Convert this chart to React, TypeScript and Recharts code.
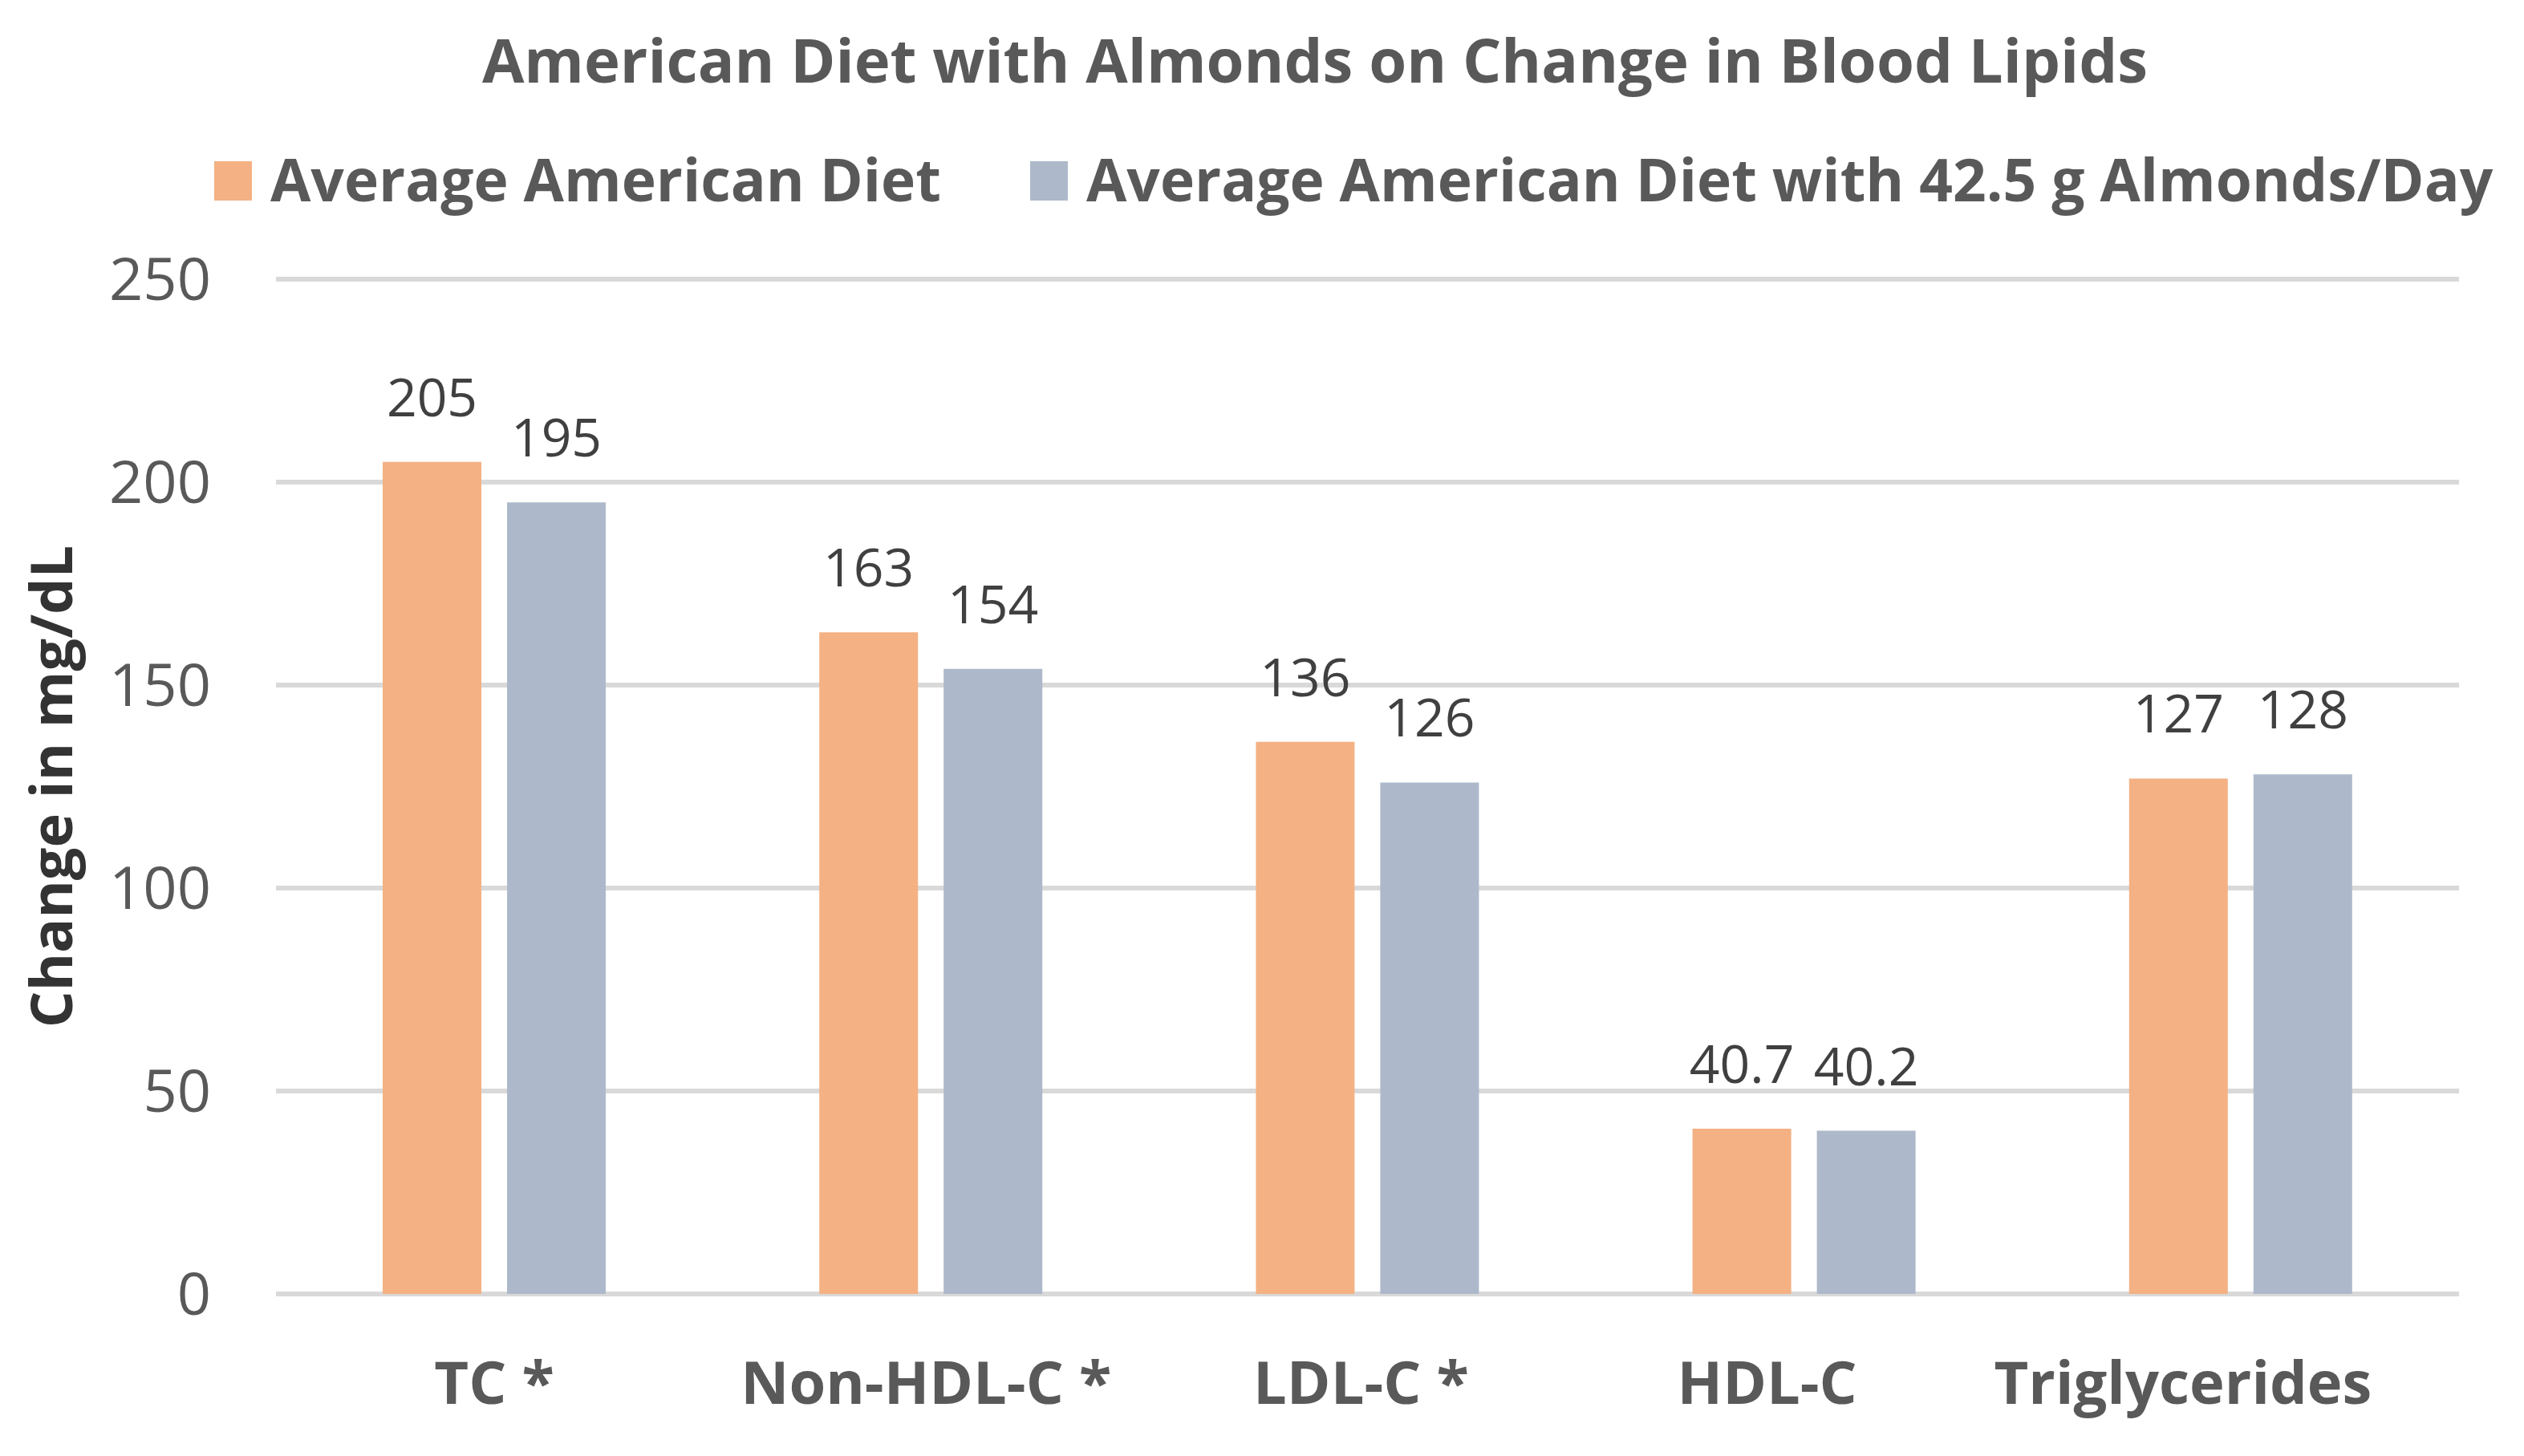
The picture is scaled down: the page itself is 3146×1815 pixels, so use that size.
import React from "react";
import {
  BarChart,
  Bar,
  XAxis,
  YAxis,
  CartesianGrid,
  Legend,
  LabelList,
} from "recharts";

// Blood lipid values (mg/dL)
const categories = ["TC *", "Non-HDL-C *", "LDL-C *", "HDL-C", "Triglycerides"];
const averageDiet = [205, 163, 136, 40.7, 127];
const almondDiet = [195, 154, 126, 40.2, 128];
const yTicks = [0, 50, 100, 150, 200, 250];

const SERIES = [
  { key: "average", name: "Average American Diet", color: "#F4B183" },
  { key: "almonds", name: "Average American Diet with 42.5 g Almonds/Day", color: "#ADB9CA" },
];

const data = categories.map((name, i) => ({
  name,
  average: averageDiet[i],
  almonds: almondDiet[i],
}));

const FONT = "'Open Sans', 'Noto Sans', sans-serif";
const TEXT_GRAY = "#595959";

// Legend positions (left edge of each swatch)
const LEGEND_X = [267, 1284];
// category labels in the original sit a little left of their group (trailing spaces)
const TICK_NUDGE = [0, -6, -8, -46, -72];

function renderLegend(props: any) {
  const payload = props.payload || [];
  return (
    <svg width={3146} height={140} style={{ display: "block", overflow: "visible" }}>
      {payload.map((entry: any, i: number) => (
        <g key={entry.value}>
          <rect x={LEGEND_X[i]} y={46} width={47} height={49} fill={entry.color} />
          <text
            x={LEGEND_X[i] + 70}
            y={96}
            fill={TEXT_GRAY}
            fontSize={73}
            fontWeight={700}
            fontFamily={FONT}
          >
            {entry.value}
          </text>
        </g>
      ))}
    </svg>
  );
}

function CategoryTick(props: any) {
  const { x, y, payload, index } = props;
  return (
    <text
      x={x + (TICK_NUDGE[index] || 0)}
      y={y}
      dy="0.71em"
      textAnchor="middle"
      fill={TEXT_GRAY}
      fontSize={74}
      fontWeight={700}
      fontFamily={FONT}
    >
      {payload.value}
    </text>
  );
}

function YLabel(props: any) {
  const vb = props.viewBox || { y: 0, height: 0 };
  const cx = 64;
  const cy = vb.y + vb.height / 2;
  return (
    <text
      x={cx}
      y={cy}
      dy="0.355em"
      textAnchor="middle"
      transform={`rotate(-90, ${cx}, ${cy})`}
      fill="#333333"
      fontSize={72}
      fontWeight={700}
      fontFamily={FONT}
    >
      Change in mg/dL
    </text>
  );
}

export default function App() {
  return (
    <div
      style={{
        position: "absolute",
        left: 0,
        top: 0,
        width: 3146,
        height: 1815,
        background: "#ffffff",
        fontFamily: FONT,
      }}
    >
      <svg
        width={3146}
        height={150}
        style={{ position: "absolute", left: 0, top: 0 }}
      >
        <text
          x={1639}
          y={103}
          textAnchor="middle"
          fill={TEXT_GRAY}
          fontSize={76}
          fontWeight={700}
          fontFamily={FONT}
        >
          American Diet with Almonds on Change in Blood Lipids
        </text>
      </svg>
      <BarChart
        width={3146}
        height={1815}
        data={data}
        margin={{ top: 348, right: 81, bottom: 102, left: 0 }}
        barSize={123}
        barGap={32}
      >
        <CartesianGrid vertical={false} stroke="#D9D9D9" strokeWidth={6} />
        <XAxis
          dataKey="name"
          axisLine={false}
          tickLine={false}
          tickSize={0}
          tickMargin={84}
          height={100}
          interval={0}
          tick={<CategoryTick />}
        />
        <YAxis
          domain={[0, 250]}
          ticks={yTicks}
          axisLine={false}
          tickLine={false}
          tickSize={0}
          tickMargin={81}
          width={344}
          tick={{ fill: TEXT_GRAY, fontSize: 74, fontFamily: FONT }}
          label={<YLabel />}
        />
        <Legend
          verticalAlign="middle"
          align="center"
          content={renderLegend}
          wrapperStyle={{ top: 155, left: 0, width: 3146, height: 140 }}
        />
        {SERIES.map((s) => (
          <Bar
            key={s.key}
            dataKey={s.key}
            name={s.name}
            fill={s.color}
            isAnimationActive={false}
          >
            <LabelList
              dataKey={s.key}
              position="top"
              offset={57}
              fill="#404040"
              fontSize={66}
              fontFamily={FONT}
            />
          </Bar>
        ))}
      </BarChart>
    </div>
  );
}
